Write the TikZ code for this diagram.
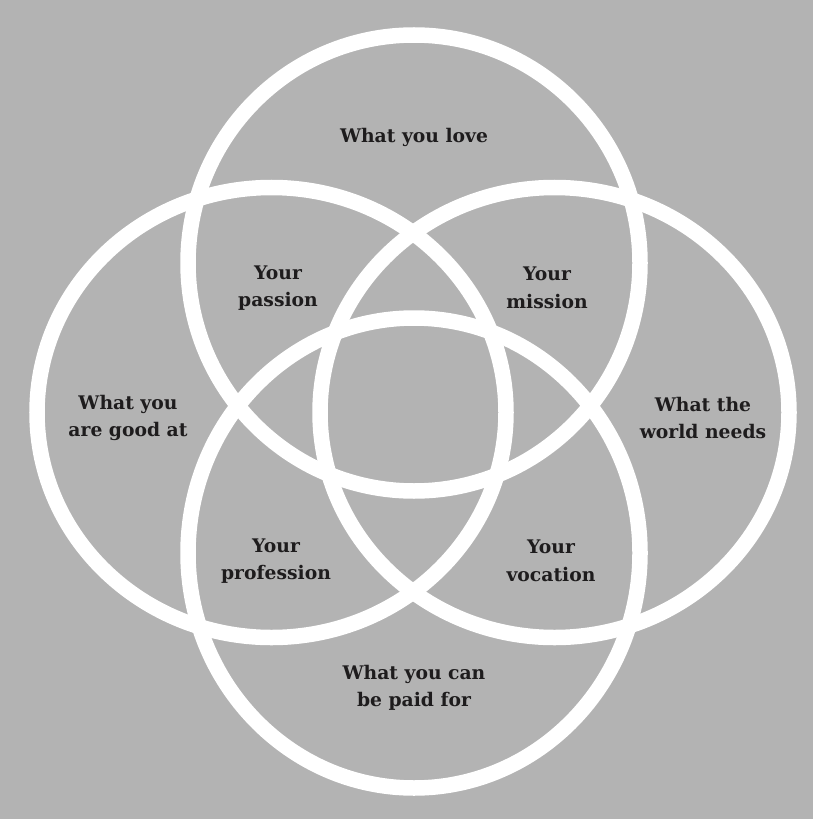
\documentclass[tikz,border=0pt]{standalone}
\usepackage{fontspec}
\setmainfont{DejaVu Serif}
\definecolor{bggray}{HTML}{B3B3B3}
\definecolor{inkdark}{HTML}{1E1C1D}

\begin{document}
\begin{tikzpicture}[
    x=0.03cm, y=-0.03cm,
    ring/.style={draw=white, line width=0.465cm},
    label/.style={align=center, text=inkdark, font=\bfseries\fontsize{16}{23.5}\selectfont},
]

% Background
\fill[bggray] (0,0) rectangle (813,819);
\useasboundingbox (0,0) rectangle (813,819);

% The four circles
\draw[ring] (414,263) ellipse [x radius=226, y radius=228];
\draw[ring] (271.5,412.5) ellipse [x radius=234.5, y radius=225];
\draw[ring] (554.5,412.5) ellipse [x radius=234.5, y radius=225];
\draw[ring] (414,553) ellipse [x radius=226, y radius=235];

% Outer labels
\node[label] (love) at (414,137) {What you love};
\node[label] (good) at (128,418) {What you\\are good at};
\node[label] (world) at (703,418) {What the\\world needs};
\node[label] (paid) at (414,688) {What you can\\be paid for};

% Overlap labels
\node[label] (passion) at (278,288) {Your\\passion};
\node[label] (mission) at (547,288) {Your\\mission};
\node[label] (profession) at (276,561) {Your\\profession};
\node[label] (vocation) at (551,561) {Your\\vocation};

\end{tikzpicture}
\end{document}
